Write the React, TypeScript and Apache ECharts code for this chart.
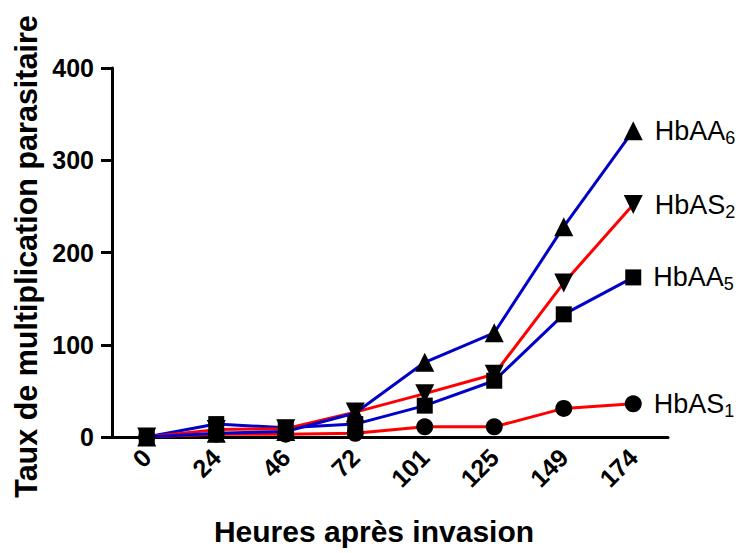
import React, { useEffect, useRef } from "react";
import * as echarts from "echarts";

const hours = ["0", "24", "46", "72", "101", "125", "149", "174"];
const hbAA6 = [0, 4, 6, 26, 81, 113, 228, 332];
const hbAS2 = [0, 8, 9, 27, 47, 68, 167, 252];
const hbAA5 = [0, 14, 10, 14, 34, 61, 133, 173];
const hbAS1 = [0, 3, 3, 4, 11, 11, 31, 36];
const yTicks = [0, 100, 200, 300, 400];

const FONT = "'Liberation Sans', Arial, sans-serif";
const BLUE = "#0000c8";
const RED = "#ff0000";

function withEndLabel(values: number[], base: string, sub: string) {
  return values.map((v, i) =>
    i === values.length - 1
      ? {
          value: v,
          label: {
            show: true,
            position: "right",
            distance: 12,
            formatter: `{a|${base}}{s|${sub}}`,
            rich: {
              a: { fontSize: 27, fontFamily: FONT, color: "#000", lineHeight: 32 },
              s: {
                fontSize: 18,
                fontFamily: FONT,
                color: "#000",
                verticalAlign: "bottom",
                padding: [14, 0, 0, 0],
              },
            },
          },
        }
      : v
  );
}

export default function App() {
  const ref = useRef<HTMLDivElement>(null);
  useEffect(() => {
    if (!ref.current) return;
    const chart = echarts.init(ref.current, null, { renderer: "svg" });
    const mk = (
      name: string,
      data: any[],
      color: string,
      symbol: string,
      size: number,
      rotate = 0
    ) => ({
      name,
      type: "line",
      data,
      symbol,
      symbolSize: size,
      symbolRotate: rotate,
      showAllSymbol: true,
      lineStyle: { color, width: 3 },
      itemStyle: { color: "#000" },
      z: 2,
    });
    chart.setOption({
      animation: false,
      backgroundColor: "#fff",
      grid: { left: 112, right: 77, top: 68, bottom: 116 },
      xAxis: {
        type: "category",
        data: hours,
        boundaryGap: true,
        name: "Heures après invasion",
        nameLocation: "middle",
        nameGap: 79,
        nameTextStyle: {
          fontFamily: FONT,
          fontWeight: "bold",
          fontSize: 30,
          color: "#000",
          padding: [0, 32, 0, 0],
        },
        axisLine: { lineStyle: { color: "#000", width: 3 } },
        axisTick: { alignWithLabel: true, length: 11, lineStyle: { color: "#000", width: 3 } },
        axisLabel: {
          rotate: 45,
          margin: 16,
          fontFamily: FONT,
          fontWeight: "bold",
          fontSize: 25,
          color: "#000",
        },
        splitLine: { show: false },
      },
      yAxis: {
        type: "value",
        min: yTicks[0],
        max: yTicks[yTicks.length - 1],
        interval: 100,
        name: "Taux de multiplication parasitaire",
        nameLocation: "middle",
        nameGap: 71,
        nameTextStyle: {
          fontFamily: FONT,
          fontWeight: "bold",
          fontSize: 30.5,
          color: "#000",
          padding: [0, 8, 0, 0],
        },
        axisLine: { show: true, lineStyle: { color: "#000", width: 3 } },
        axisTick: { show: true, length: 11, lineStyle: { color: "#000", width: 3 } },
        axisLabel: {
          margin: 18,
          fontFamily: FONT,
          fontWeight: "bold",
          fontSize: 25,
          color: "#000",
        },
        splitLine: { show: false },
      },
      series: [
        mk("HbAS1", withEndLabel(hbAS1, "HbAS", "1"), RED, "circle", 17),
        mk("HbAA5", withEndLabel(hbAA5, "HbAA", "5"), BLUE, "rect", 16),
        mk("HbAS2", withEndLabel(hbAS2, "HbAS", "2"), RED, "triangle", 19, 180),
        mk("HbAA6", withEndLabel(hbAA6, "HbAA", "6"), BLUE, "triangle", 19),
      ],
    });
    return () => chart.dispose();
  }, []);
  return <div ref={ref} style={{ width: 745, height: 553, position: "absolute", left: 0, top: 0 }} />;
}
